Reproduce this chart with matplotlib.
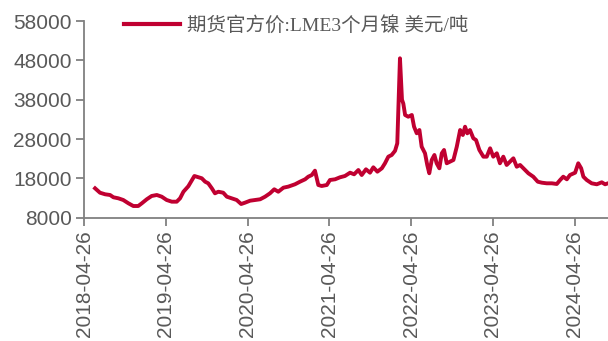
import matplotlib
matplotlib.use('Agg')
import matplotlib.pyplot as plt
import pandas as pd

plt.rcParams['font.family'] = ['Liberation Sans', 'Noto Sans CJK SC', 'DejaVu Sans']

dates = [
    '2018-06-13', '2018-07-05', '2018-07-28', '2018-08-19', '2018-09-03', '2018-09-25',
    '2018-10-17', '2018-11-09', '2018-12-01', '2018-12-23', '2019-01-08', '2019-01-30',
    '2019-02-21', '2019-03-16', '2019-04-07', '2019-04-29', '2019-05-22', '2019-06-13',
    '2019-06-28', '2019-07-13', '2019-08-04', '2019-08-31', '2019-09-18', '2019-10-03',
    '2019-10-18', '2019-11-01', '2019-11-17', '2019-12-01', '2019-12-16', '2020-01-07',
    '2020-01-23', '2020-02-14', '2020-03-07', '2020-03-27', '2020-04-13', '2020-05-06',
    '2020-05-28', '2020-06-20', '2020-07-12', '2020-08-03', '2020-08-22', '2020-09-09',
    '2020-10-02', '2020-10-24', '2020-11-23', '2020-12-15', '2021-01-07', '2021-01-21',
    '2021-02-06', '2021-02-20', '2021-03-07', '2021-03-22', '2021-04-14', '2021-04-28',
    '2021-05-21', '2021-06-12', '2021-07-04', '2021-07-27', '2021-08-14', '2021-09-02',
    '2021-09-17', '2021-10-06', '2021-10-24', '2021-11-08', '2021-11-26', '2021-12-16',
    '2021-12-30', '2022-01-14', '2022-01-29', '2022-02-13', '2022-02-23', '2022-03-07',
    '2022-03-16', '2022-03-22', '2022-03-30', '2022-04-13', '2022-04-29', '2022-05-09',
    '2022-05-21', '2022-06-02', '2022-06-12', '2022-06-27', '2022-07-07', '2022-07-16',
    '2022-07-27', '2022-08-08', '2022-08-18', '2022-08-30', '2022-09-10', '2022-09-20',
    '2022-10-02', '2022-10-17', '2022-11-01', '2022-11-16', '2022-12-01', '2022-12-13',
    '2022-12-23', '2023-01-02', '2023-01-14', '2023-01-29', '2023-02-10', '2023-02-25',
    '2023-03-15', '2023-03-30', '2023-04-14', '2023-04-28', '2023-05-14', '2023-05-28',
    '2023-06-12', '2023-06-27', '2023-07-12', '2023-07-27', '2023-08-11', '2023-08-26',
    '2023-09-10', '2023-10-02', '2023-10-24', '2023-11-13', '2023-12-01', '2023-12-23',
    '2024-01-15', '2024-02-06', '2024-02-21', '2024-03-06', '2024-03-22', '2024-04-05',
    '2024-04-28', '2024-05-12', '2024-05-25', '2024-06-04', '2024-06-19', '2024-07-11',
    '2024-08-03', '2024-08-25', '2024-09-09', '2024-09-22',
]
nickel = [
    15470, 14350, 13950, 13770, 13190, 12930,
    12500, 11660, 10970, 10970, 11660, 12680,
    13520, 13770, 13340, 12500, 12070, 12070,
    12930, 14600, 16000, 18600, 18270, 18020,
    17150, 16740, 15470, 14200, 14600, 14350,
    13340, 12930, 12500, 11480, 11810, 12320,
    12500, 12680, 13340, 14200, 15220, 14600,
    15630, 15900, 16500, 17150, 17760, 18420,
    18850, 19950, 16310, 16060, 16310, 17580,
    17760, 18270, 18600, 19440, 19030, 20120,
    18850, 20300, 19440, 20810, 19700, 20560,
    21830, 23510, 23940, 25000, 26910, 48520,
    38000, 37000, 34110, 33670, 34110, 31130,
    29450, 30290, 26050, 24370, 21400, 19290,
    22670, 23940, 21830, 20560, 24370, 25210,
    21830, 22240, 22670, 26050, 30290, 29020,
    31130, 29450, 30290, 28180, 27750, 25210,
    23510, 23510, 25640, 23510, 24370, 21830,
    23510, 21400, 22240, 23100, 20960, 21400,
    20560, 19290, 18420, 17150, 16900, 16740,
    16740, 16570, 17580, 18420, 17760, 18850,
    19440, 21830, 20560, 18420, 17580, 16740,
    16490, 17000, 16490, 16740,
]
tick_dates = ['2018-04-26', '2019-04-26', '2020-04-26', '2021-04-26',
              '2022-04-26', '2023-04-26', '2024-04-26']
y_ticks = [8000, 18000, 28000, 38000, 48000, 58000]
series_name = '期货官方价:LME3个月镍 美元/吨'

grey = '#595959'
fig = plt.figure(figsize=(6.08, 3.41), dpi=100)
ax = fig.add_axes([0.1387, 0.3616, 0.8613, 0.5768])
x = pd.to_datetime(dates)
ax.plot(x, nickel, color='#C00031', lw=2.8, label=series_name)

ax.set_xlim(pd.Timestamp('2018-04-26'), pd.Timestamp('2024-09-22'))
ax.set_ylim(8000, 58000)
ax.set_yticks(y_ticks)
ax.set_yticklabels([str(v) for v in y_ticks])
ax.set_xticks(pd.to_datetime(tick_dates))
ax.set_xticklabels(tick_dates, rotation=90)

for s in ['top', 'right']:
    ax.spines[s].set_visible(False)
for s in ['left', 'bottom']:
    ax.spines[s].set_color('#808080')
    ax.spines[s].set_linewidth(1.3)
ax.tick_params(axis='both', colors='#808080', labelcolor=grey, labelsize=15,
               length=6, width=1.3, direction='out', pad=3)

leg = fig.legend(loc='center left', bbox_to_anchor=(0.204, 0.9267), frameon=False,
                 borderpad=0, borderaxespad=0, handlelength=2.9, handletextpad=0.35,
                 prop={'family': ['Liberation Serif', 'Noto Sans CJK SC'], 'size': 14})
for t in leg.get_texts():
    t.set_color(grey)
for h in leg.get_lines():
    h.set_linewidth(3)

fig.savefig('out.png', dpi=100)
